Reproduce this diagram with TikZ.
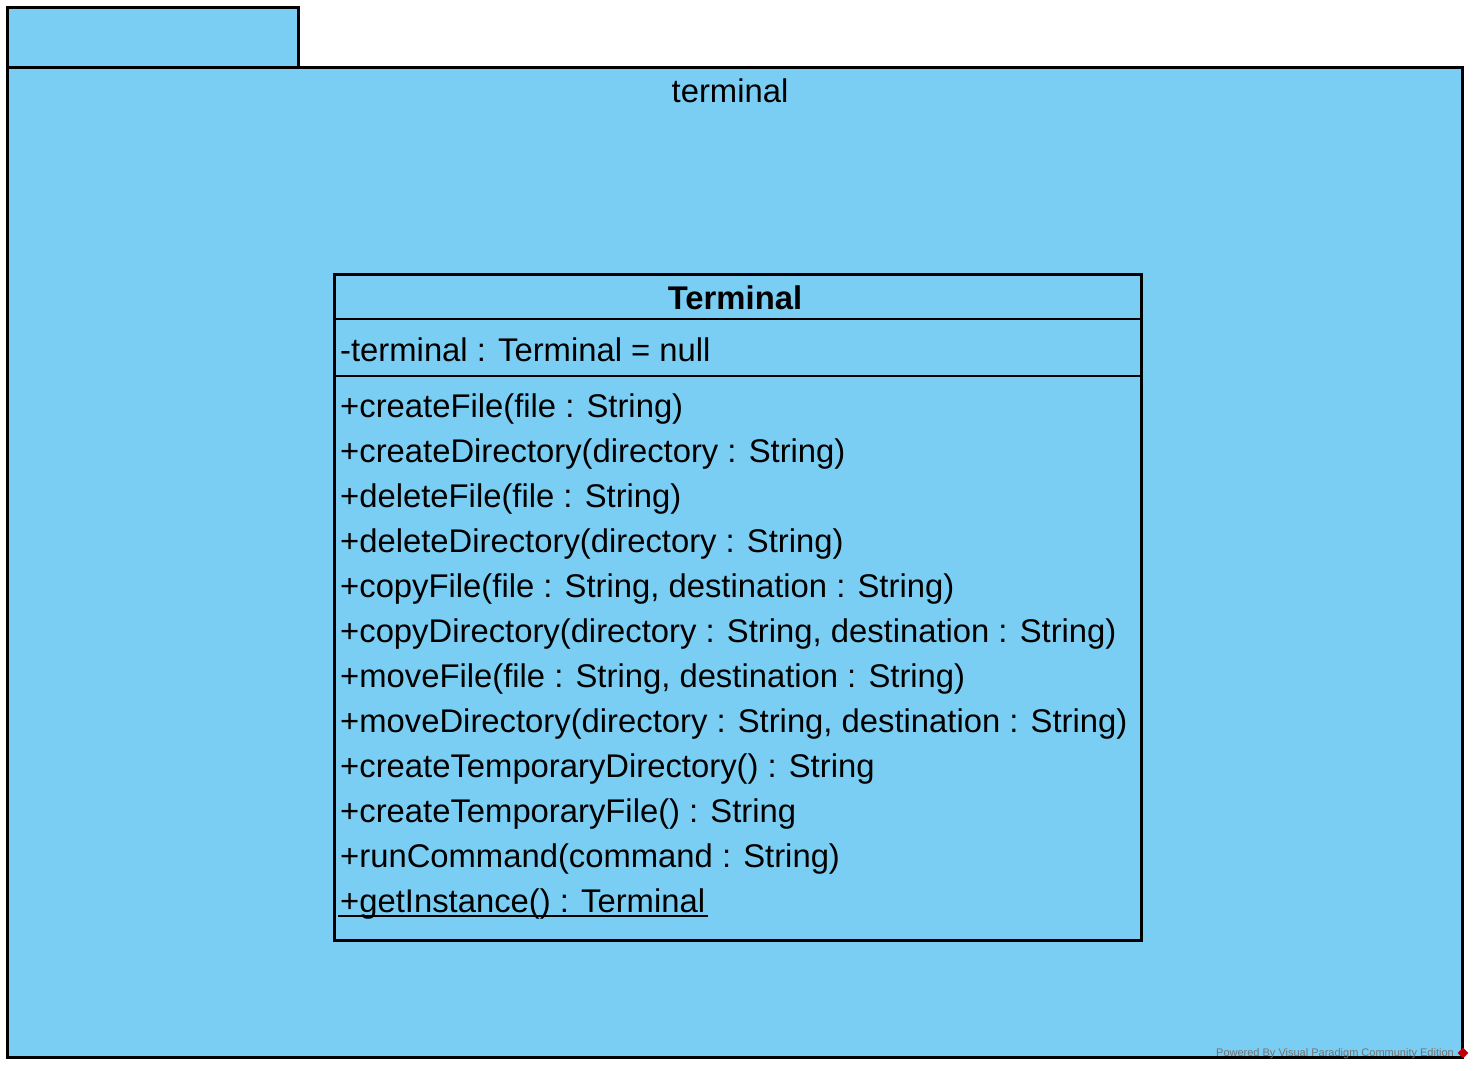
\documentclass[tikz,border=0pt]{standalone}
\usepackage{fontspec}
\setmainfont{Liberation Sans}
\usepackage{tikz}
\usetikzlibrary{shapes.geometric}
\definecolor{vpblue}{RGB}{122,206,244}

\begin{document}
\begin{tikzpicture}[x=1pt,y=-1pt,
                    pkg/.style={draw, line width=2.5pt, fill=vpblue, inner sep=0pt, anchor=north west},
                    member/.style={anchor=west, inner sep=0pt, font=\fontsize{32.8}{38}\selectfont}]
                    \useasboundingbox (0,0) rectangle (1476,1071);
                    \node[pkg, minimum width=291pt, minimum height=60pt] (tab) at (6,6) {};
                    \node[pkg, minimum width=1455pt, minimum height=990pt] (package) at (6,66) {};
                    \node[font=\fontsize{32.8}{38}\selectfont, inner sep=0pt] (pkgname) at (730,91) {terminal};
                    \node[draw, line width=2.5pt, inner sep=0pt, anchor=north west,
                          minimum width=807pt, minimum height=666pt] (terminal) at (333,273) {};
                    \node[font=\fontsize{32.8}{38}\selectfont\bfseries, inner sep=0pt] (classname) at (735,298) {Terminal};
                    \draw[line width=2.5pt] (333,319) -- (1140,319);
                    \draw[line width=2.5pt] (333,376) -- (1140,376);
                    \node[member] (attr) at (340,350) {-terminal : Terminal = null};
                    \foreach \op [count=\i] in {+createFile(file : String),
                                               +createDirectory(directory : String),
                                               +deleteFile(file : String),
                                               +deleteDirectory(directory : String),
                                               {+copyFile(file : String, destination : String)},
                                               {+copyDirectory(directory : String, destination : String)},
                                               {+moveFile(file : String, destination : String)},
                                               {+moveDirectory(directory : String, destination : String)},
                                               +createTemporaryDirectory() : String,
                                               +createTemporaryFile() : String,
                                               +runCommand(command : String),
                                               +getInstance() : Terminal}
                        \node[member] (op\i) at (340,364+45*\i) {\op};
                    \draw[line width=2pt] ([xshift=-2pt,yshift=-3.5pt]op12.base west) -- ([xshift=3pt,yshift=-3.5pt]op12.base east);
                    \node[font=\fontsize{11}{12}\selectfont, text=gray!90!black, inner sep=0pt, anchor=east] (credit) at (1454,1054) {Powered By Visual Paradigm Community Edition};
                    \node[diamond, fill=red!75!black, inner sep=0pt, minimum size=11pt] (logo) at (1463,1053) {};
                \end{tikzpicture}
\end{document}
